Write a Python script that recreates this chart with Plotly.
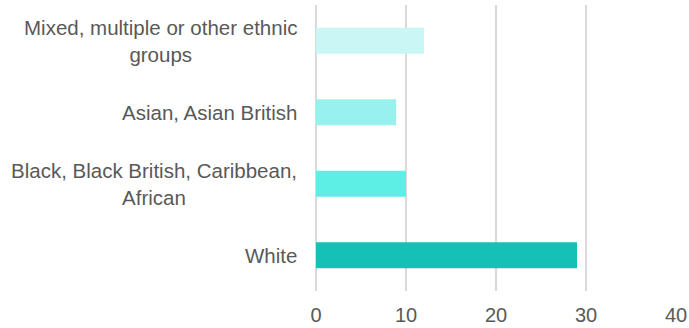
import plotly.graph_objects as go

categories = ["Mixed, multiple or other ethnic<br>groups", "Asian, Asian British",
              "Black, Black British, Caribbean,<br>African", "White"]
values = [12.0, 8.9, 10.0, 29.0]
colors = ["#C9F7F5", "#98F1ED", "#5DEFE5", "#15C1B7"]
x_ticks = [0, 10, 20, 30, 40]

FONT = "Liberation Sans, Arial, sans-serif"

fig = go.Figure()
fig.add_trace(go.Bar(
    y=categories, x=values, orientation="h",
    marker=dict(color=colors, line=dict(width=0)),
    width=0.365, showlegend=False,
))

for c in categories:
    fig.add_annotation(
        x=0, xref="paper", y=c, yref="y", text=c, showarrow=False,
        xanchor="right", yanchor="middle", align="center", xshift=-17,
        font=dict(family=FONT, size=20.5, color="#595959"),
    )

fig.update_layout(
    width=689, height=328,
    margin=dict(l=316, r=13, t=5, b=37, autoexpand=False),
    plot_bgcolor="white", paper_bgcolor="white",
    bargap=0.5,
)
fig.update_xaxes(
    range=[0, 40], tickvals=x_ticks, showgrid=True, gridcolor="#D9D9D9", gridwidth=1.5,
    zeroline=True, zerolinecolor="#D9D9D9", zerolinewidth=1.5, showline=False, ticks="",
    ticklabelstandoff=10, automargin=False,
    tickfont=dict(family=FONT, size=20, color="#595959"),
)
fig.update_yaxes(
    categoryorder="array", categoryarray=categories[::-1],
    showticklabels=False, showgrid=False, zeroline=False, showline=False, ticks="",
    range=[-0.5, 3.5], automargin=False,
)

fig.write_html("out.html")
